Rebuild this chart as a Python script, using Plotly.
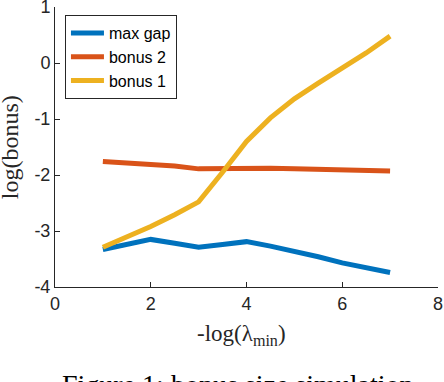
import plotly.graph_objects as go

x_vals = [1, 1.5, 2, 2.5, 3, 3.5, 4, 4.5, 5, 5.5, 6, 6.5, 7]
max_gap = [-3.33, -3.25, -3.15, -3.22, -3.29, -3.24, -3.19, -3.27, -3.36, -3.46, -3.57, -3.66, -3.74]
bonus_2 = [-1.76, -1.78, -1.80, -1.84, -1.89, -1.88, -1.87, -1.88, -1.89, -1.90, -1.91, -1.92, -1.93]
bonus_1 = [-3.29, -3.11, -2.92, -2.71, -2.48, -1.95, -1.40, -0.98, -0.64, -0.36, -0.10, 0.18, 0.48]

x_ticks = [0, 2, 4, 6, 8]
x_ticktext = ["0", "2", "4", "6", "8"]
y_ticks = [-4, -3, -2, -1, 0, 1]
y_ticktext = ["-4", "-3", "-2", "-1", "0", "1"]

series = [
    ("max gap", max_gap, "#0072BD"),
    ("bonus 2", bonus_2, "#D95319"),
    ("bonus 1", bonus_1, "#EDB120"),
]

fig = go.Figure()
for name, vals, color in series:
    fig.add_trace(go.Scatter(x=x_vals, y=vals, mode="lines", name=name,
                             line=dict(color=color, width=5)))

axis_common = dict(
    showline=True, linecolor="#262626", linewidth=1,
    ticks="inside", ticklen=5, tickcolor="#262626",
    showgrid=False, zeroline=False, automargin=False,
    ticklabeloverflow="allow",
    tickfont=dict(family="Liberation Sans, Arial", size=18, color="#262626"),
)

fig.update_layout(
    width=444, height=382,
    margin=dict(l=55, r=6, t=7, b=95),
    plot_bgcolor="white", paper_bgcolor="white",
    xaxis=dict(range=[0, 8.001], tickvals=x_ticks, ticktext=x_ticktext, **axis_common),
    yaxis=dict(range=[-4, 1.001], tickvals=y_ticks, ticktext=y_ticktext, **axis_common),
    legend=dict(x=0.026, y=0.971, xanchor="left", yanchor="top",
                bgcolor="white", bordercolor="#262626", borderwidth=1,
                font=dict(family="Liberation Sans, Arial", size=16, color="black"),
                tracegroupgap=0, itemwidth=33),
    showlegend=True,
)

serif = "Liberation Serif, DejaVu Serif"
fig.add_annotation(text="-log(λ<sub>min</sub>)", xref="paper", yref="paper",
                   x=0.487, y=-0.170, xanchor="center", yanchor="middle", showarrow=False,
                   font=dict(family=serif, size=23, color="#262626"))
fig.add_annotation(text="log(bonus)", xref="paper", yref="paper", textangle=-90,
                   x=-0.117, y=0.5, xanchor="center", yanchor="middle", showarrow=False,
                   font=dict(family=serif, size=24, color="#262626"))
fig.add_annotation(text="Figure 1: bonus size simulation", xref="paper", yref="paper",
                   x=0.478, y=-0.287, xanchor="center", yanchor="top", showarrow=False,
                   font=dict(family=serif, size=28, color="black"))

fig.write_html("out.html", config={"displayModeBar": False},
               post_script="document.body.style.margin='0';")
